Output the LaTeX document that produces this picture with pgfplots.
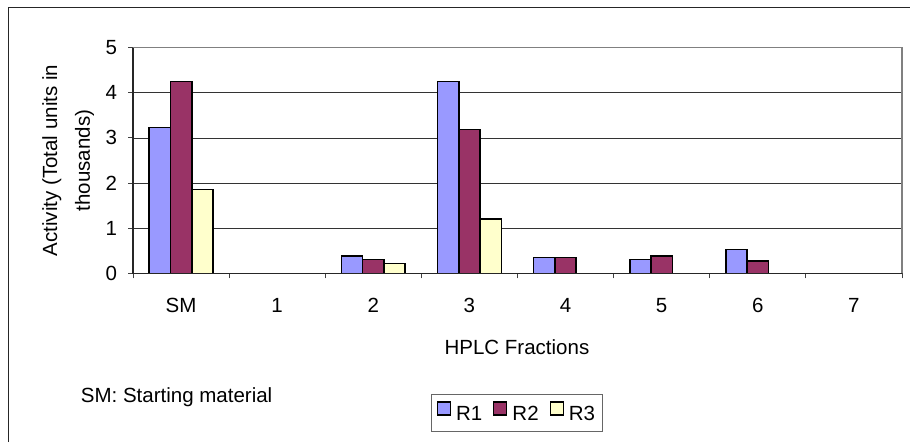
\documentclass[border=0pt]{standalone}
\usepackage{pgfplots}
\pgfplotsset{compat=1.18}
\usepackage{fontspec}
\setmainfont{Liberation Sans}
\definecolor{rone}{HTML}{9999FF}
\definecolor{rtwo}{HTML}{993366}
\definecolor{rthree}{HTML}{FFFFCC}
\newcommand{\cf}{\fontsize{20.5}{24}\selectfont}
\pgfplotsset{/pgfplots/ybar legend/.style={/pgfplots/legend image code/.code={\draw[##1,draw=black,line width=1.2pt] (0pt,-1pt) rectangle (13pt,12pt);}}}
\begin{document}
\begin{tikzpicture}
\begin{axis}[
  at={(133pt,168.7pt)}, anchor=south west,
  scale only axis, width=769pt, height=225.6pt,
  xmin=-0.5, xmax=7.5, ymin=0, ymax=5,
  clip=false,
  axis line style={draw=none},
  ybar=0pt, bar width=21.3pt,
  xtick={-0.5,0.5,...,7.5}, xticklabels={},
  extra x ticks={0,...,7}, extra x tick labels={SM,1,2,3,4,5,6,7},
  extra x tick style={major tick length=0pt, grid=none},
  ytick={0,...,5},
  ymajorgrids, major grid style={black!80, line width=0.8pt},
  tick align=outside, xtick pos=left, ytick pos=left,
  major tick length=5pt,
  tick style={black!75,line width=1pt},
  /pgf/number format/assume math mode=true,
  ticklabel style={font=\cf},
  xticklabel style={anchor=base, inner sep=0pt, yshift=-38.7pt},
  yticklabel style={anchor=east, inner sep=0pt, xshift=-10.7pt},
  xlabel={HPLC Fractions},
  xlabel style={font=\cf, inner sep=0pt, at={(axis description cs:0.4993,-0.3621)}, anchor=base},
  ylabel={Activity (Total units in\\thousands)},
  ylabel style={align=center, font=\fontsize{20.5}{32.7}\selectfont, inner sep=0pt, at={(axis description cs:-0.0503,0.5)}, anchor=south},
  legend columns=3,
  legend style={at={(axis description cs:0.4993,-0.535)}, anchor=north, draw=black!60, line width=1pt, font=\cf, inner xsep=5pt, inner ysep=7pt,
    /tikz/every odd column/.append style={column sep=3pt},
    /tikz/every even column/.append style={column sep=9pt}},
]
\addplot[fill=rone, draw=black, line width=1.6pt] coordinates {(0,3.23) (2,0.39) (3,4.25) (4,0.35) (5,0.31) (6,0.53)};
\addplot[fill=rtwo, draw=black, line width=1.6pt] coordinates {(0,4.25) (2,0.31) (3,3.19) (4,0.35) (5,0.39) (6,0.27)};
\addplot[fill=rthree, draw=black, line width=1.6pt] coordinates {(0,1.86) (2,0.22) (3,1.20)};
\legend{R1,R2,R3}
\draw[black!50, line width=1.5pt] (rel axis cs:0,1) -- (rel axis cs:1,1) -- (rel axis cs:1,0);
\draw[black!85, line width=1.3pt] (rel axis cs:0,1) -- (rel axis cs:0,0) -- (rel axis cs:1,0);
\node[font=\cf, inner sep=0pt, anchor=base west] at (axis description cs:-0.0680,-0.5718) {SM: Starting material};
\end{axis}
\draw[black!85, line width=1pt] (8pt,0pt) -- (8pt,434pt) -- (910pt,434pt);
\pgfresetboundingbox
\useasboundingbox (0pt,0pt) rectangle (910pt,442pt);
\end{tikzpicture}
\end{document}
